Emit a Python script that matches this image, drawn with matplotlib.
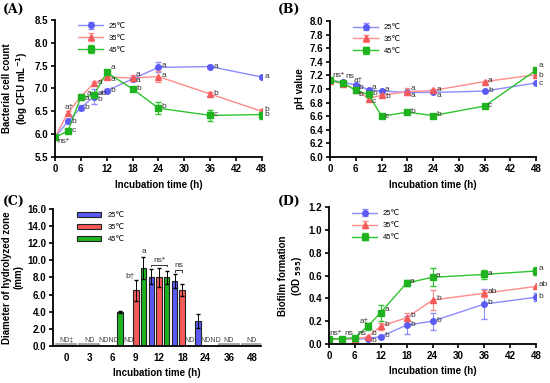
import numpy as np
import matplotlib.pyplot as plt

# ---- data ----
hours = [0, 3, 6, 9, 12, 18, 24, 36, 48]
temps = ["25\u2103", "35\u2103", "45\u2103"]

# (A) bacterial count, log CFU/mL
cfu_25 = [5.93, 6.28, 6.58, 6.82, 6.95, 7.21, 7.46, 7.48, 7.25]
cfu_35 = [5.93, 6.47, 6.82, 7.11, 7.25, 7.23, 7.26, 6.88, 6.50]
cfu_45 = [5.93, 6.07, 6.81, 6.85, 7.35, 6.99, 6.57, 6.41, 6.43]
cfu_err_25 = [0.03, 0.03, 0.05, 0.16, 0.04, 0.05, 0.11, 0.03, 0.05]
cfu_err_35 = [0.03, 0.03, 0.05, 0.03, 0.03, 0.06, 0.12, 0.04, 0.05]
cfu_err_45 = [0.03, 0.03, 0.05, 0.05, 0.06, 0.05, 0.13, 0.12, 0.10]

# (B) pH
ph_25 = [7.13, 7.10, 7.06, 6.99, 6.97, 6.95, 6.95, 6.97, 7.09]
ph_35 = [7.12, 7.08, 6.99, 6.86, 6.91, 6.96, 6.98, 7.11, 7.21]
ph_45 = [7.13, 7.09, 6.98, 6.92, 6.60, 6.66, 6.61, 6.75, 7.28]
ph_err_35 = [0.01, 0.01, 0.01, 0.02, 0.02, 0.05, 0.02, 0.01, 0.02]

# (C) hydrolyzed zone, mm (None = ND)
zone_labels = ["0", "3", "6", "9", "12", "18", "24", "36", "48"]
zone_25 = [None, None, None, None, 8.1, 7.6, 2.9, None, None]
zone_35 = [None, None, None, 6.5, 8.0, 6.5, None, None, None]
zone_45 = [None, None, 4.0, 9.1, 8.0, None, None, None, None]
zone_err_25 = [0, 0, 0, 0, 0.9, 0.8, 0.8, 0, 0]
zone_err_35 = [0, 0, 0, 1.2, 1.1, 0.7, 0, 0, 0]
zone_err_45 = [0, 0, 0.1, 1.3, 0.8, 0, 0, 0, 0]

# (D) biofilm OD595
od_25 = [0.045, 0.045, 0.045, 0.045, 0.065, 0.165, 0.20, 0.35, 0.41]
od_35 = [0.040, 0.045, 0.045, 0.060, 0.155, 0.23, 0.385, 0.445, 0.505]
od_45 = [0.045, 0.045, 0.055, 0.155, 0.275, 0.535, 0.585, 0.61, 0.64]
od_err_25 = [0.005, 0.005, 0.005, 0.005, 0.01, 0.08, 0.075, 0.13, 0.035]
od_err_35 = [0.005, 0.005, 0.005, 0.01, 0.03, 0.045, 0.085, 0.03, 0.10]
od_err_45 = [0.005, 0.005, 0.01, 0.03, 0.07, 0.03, 0.08, 0.04, 0.035]

BLUE, RED, GREEN = "#5a5af5", "#f55a5a", "#1fb41f"
LBLUE, LRED, LGREEN = "#8c8cff", "#ff8c8c", "#2ec42e"

plt.rcParams["font.family"] = ["Liberation Sans", "DejaVu Sans"]
fig = plt.figure(figsize=(5.5, 3.83), dpi=100)


def style(ax):
    for s in ["top", "right"]:
        ax.spines[s].set_visible(False)
    for s in ["left", "bottom"]:
        ax.spines[s].set_linewidth(1.3)
    ax.tick_params(width=1.2, length=3, labelsize=7, pad=2)
    for t in ax.get_xticklabels() + ax.get_yticklabels():
        t.set_fontweight("bold")
    ax.set_xlabel("Incubation time (h)", fontsize=7, fontweight="bold", labelpad=4)


def legend(ax):
    ax.legend(loc="upper left", bbox_to_anchor=(0.08, 1.03), frameon=False,
              fontsize=5.5, handlelength=3.2, labelspacing=0.6, handletextpad=0.8)


def lines(ax, ys, errs):
    mk = ["o", "^", "s"]
    lc = [LBLUE, LRED, LGREEN]
    mc = [BLUE, RED, GREEN]
    ms = [4, 4, 5]
    for y, e, m, c1, c2, s, lab in zip(ys, errs, mk, lc, mc, ms, temps):
        ax.errorbar(hours, y, yerr=e, color=c1, marker=m, mfc=c2, mec=c2,
                    ms=s, lw=1, capsize=2, elinewidth=0.8, label=lab)
    ax.set_xlim(0, 48)
    ax.set_xticks(range(0, 49, 6))
    legend(ax)


def note(ax, x, y, s):
    ax.text(x, y, s, fontsize=6, color="#333333", va="center")


# ---------- (A) ----------
axA = fig.add_axes([0.1, 0.59, 0.376, 0.358])
lines(axA, [cfu_25, cfu_35, cfu_45], [cfu_err_25, cfu_err_35, cfu_err_45])
axA.set_ylim(5.5, 8.5)
axA.set_yticks(np.arange(5.5, 8.51, 0.5))
axA.set_ylabel("Bacterial cell count\n(log CFU mL$^{\\mathbf{-1}}$)", fontsize=7, fontweight="bold", labelpad=3)
style(axA)
for x, y, s in [(0.5, 5.85, "ns*"), (3.8, 6.08, "c"), (3.8, 6.28, "b"), (2.2, 6.58, "a\u2020"),
                (6.8, 6.58, "b"), (6.8, 6.78, "a"), (7.3, 6.9, "a"), (9.8, 6.75, "b"),
                (9.8, 6.88, "ab"), (9.8, 7.14, "a"), (12.8, 6.95, "b"), (12.8, 7.2, "a"),
                (12.8, 7.46, "a"), (18.8, 6.99, "b"), (18.8, 7.18, "a"), (18.8, 7.31, "a"),
                (24.8, 6.6, "b"), (24.8, 7.28, "a"), (24.8, 7.5, "a"), (36.8, 6.42, "c"),
                (36.8, 6.88, "b"), (36.8, 7.49, "a"), (48.6, 6.43, "b"), (48.6, 6.55, "b"),
                (48.6, 7.26, "a")]:
    note(axA, x, y, s)

# ---------- (B) ----------
axB = fig.add_axes([0.6, 0.59, 0.375, 0.355])
lines(axB, [ph_25, ph_35, ph_45], [0, ph_err_35, 0])
axB.set_ylim(6.0, 8.0)
axB.set_yticks(np.arange(6.0, 8.01, 0.2))
axB.set_yticklabels(["%.1f" % v for v in np.arange(6.0, 8.01, 0.2)])
axB.set_ylabel("pH value", fontsize=7, fontweight="bold", labelpad=3)
style(axB)
for x, y, s in [(0.6, 7.2, "ns*"), (3.6, 7.19, "ns"), (5.5, 7.13, "a\u2020"), (6.7, 7.02, "b"),
                (6.7, 6.92, "b"), (9.8, 7.02, "a"), (9.8, 6.93, "b"), (9.8, 6.81, "c"),
                (12.8, 7.0, "a"), (12.8, 6.89, "b"), (12.8, 6.6, "c"), (18.8, 7.01, "a"),
                (18.8, 6.91, "a"), (18.8, 6.67, "b"), (24.8, 7.0, "a"), (24.8, 6.9, "a"),
                (24.8, 6.62, "b"), (36.8, 7.13, "a"), (36.8, 6.98, "b"), (36.8, 6.76, "c"),
                (48.6, 7.34, "a"), (48.6, 7.2, "b"), (48.6, 7.08, "c")]:
    note(axB, x, y, s)

# ---------- (C) ----------
axC = fig.add_axes([0.097, 0.097, 0.378, 0.357])
idx = np.arange(len(zone_labels))
off, w = 0.33, 0.24
for k, (vals, errs, col) in enumerate([(zone_25, zone_err_25, BLUE),
                                        (zone_35, zone_err_35, RED),
                                        (zone_45, zone_err_45, GREEN)]):
    xs = [i + (k - 1) * off for i, v in enumerate(vals) if v is not None]
    hs = [v for v in vals if v is not None]
    es = [errs[i] for i, v in enumerate(vals) if v is not None]
    axC.bar(xs, hs, width=w, color=col, edgecolor="#222222", lw=0.8,
            yerr=es, capsize=1.5, error_kw=dict(lw=0.7), label=temps[k])
# ND groups: all three temperatures not detected
for i in idx:
    if zone_25[i] is None and zone_35[i] is None and zone_45[i] is None:
        axC.bar(i, 0.25, width=0.85, color="white", edgecolor="#999999", lw=1.2)
        axC.text(i, 0.45, "ND\u2021" if i == 0 else "ND", fontsize=5, ha="center", color="#444444")
axC.text(2 - 0.17, 0.45, "NDND", fontsize=5, ha="center", color="#444444")
axC.text(3 - off, 0.45, "ND", fontsize=5, ha="center", color="#444444")
axC.text(5 + off, 0.45, "ND", fontsize=5, ha="center", color="#444444")
axC.text(6 + 0.22, 0.45, "NDND", fontsize=5, ha="center", color="#444444")
axC.text(3 - 0.05, 7.9, "b\u2020", fontsize=6, ha="right", color="#333333")
axC.text(3 + off, 10.9, "a", fontsize=6, ha="center", color="#333333")
axC.plot([4 - off, 4 - off, 4 + off, 4 + off], [9.3, 9.5, 9.5, 9.3], color="#333333", lw=0.7)
axC.text(4, 9.8, "ns*", fontsize=6, ha="center", color="#333333")
axC.plot([5 - off, 5 - off, 5, 5], [8.7, 8.9, 8.9, 8.7], color="#333333", lw=0.7)
axC.text(5 - off / 2, 9.2, "ns", fontsize=6, ha="center", color="#333333")
axC.set_xlim(-0.55, 8.4)
axC.set_ylim(0, 16)
axC.set_xticks(idx)
axC.set_xticklabels(zone_labels)
axC.set_yticks(np.arange(0, 16.1, 2))
axC.set_yticklabels(["%.1f" % v for v in np.arange(0, 16.1, 2)])
axC.set_ylabel("Diameter of hydrolyzed zone\n(mm)", fontsize=7, fontweight="bold", labelpad=3)
legend(axC)
style(axC)
axC.tick_params(axis="x", length=0, pad=5)

# ---------- (D) ----------
axD = fig.add_axes([0.598, 0.102, 0.377, 0.357])
lines(axD, [od_25, od_35, od_45], [od_err_25, od_err_35, od_err_45])
axD.set_ylim(0, 1.2)
axD.set_yticks(np.arange(0, 1.21, 0.2))
axD.set_yticklabels(["%.1f" % v for v in np.arange(0, 1.21, 0.2)])
axD.set_ylabel("Biofilm formation\n(OD $_{\\mathbf{595}}$)", fontsize=7, fontweight="bold", labelpad=3)
style(axD)
for x, y, s in [(0.2, 0.09, "ns*"), (3.6, 0.09, "ns"), (6.6, 0.09, "ns"), (7.0, 0.2, "a\u2020"),
                (9.8, 0.09, "b"), (9.8, 0.03, "b"), (12.8, 0.3, "a"), (12.8, 0.17, "b"),
                (12.8, 0.07, "b"), (18.8, 0.55, "a"), (18.8, 0.25, "b"), (18.8, 0.17, "b"),
                (24.8, 0.6, "a"), (24.8, 0.4, "b"), (24.8, 0.21, "b"), (36.8, 0.62, "a"),
                (36.8, 0.46, "ab"), (36.8, 0.36, "b"), (48.6, 0.66, "a"), (48.6, 0.52, "ab"),
                (48.6, 0.42, "b")]:
    note(axD, x, y, s)

for lab, x, y in [("(A)", 0.005, 0.965), ("(B)", 0.505, 0.965), ("(C)", 0.005, 0.465), ("(D)", 0.505, 0.465)]:
    fig.text(x, y, lab, fontsize=9, fontweight="bold", family="DejaVu Serif")

fig.savefig("out.png", dpi=100)
